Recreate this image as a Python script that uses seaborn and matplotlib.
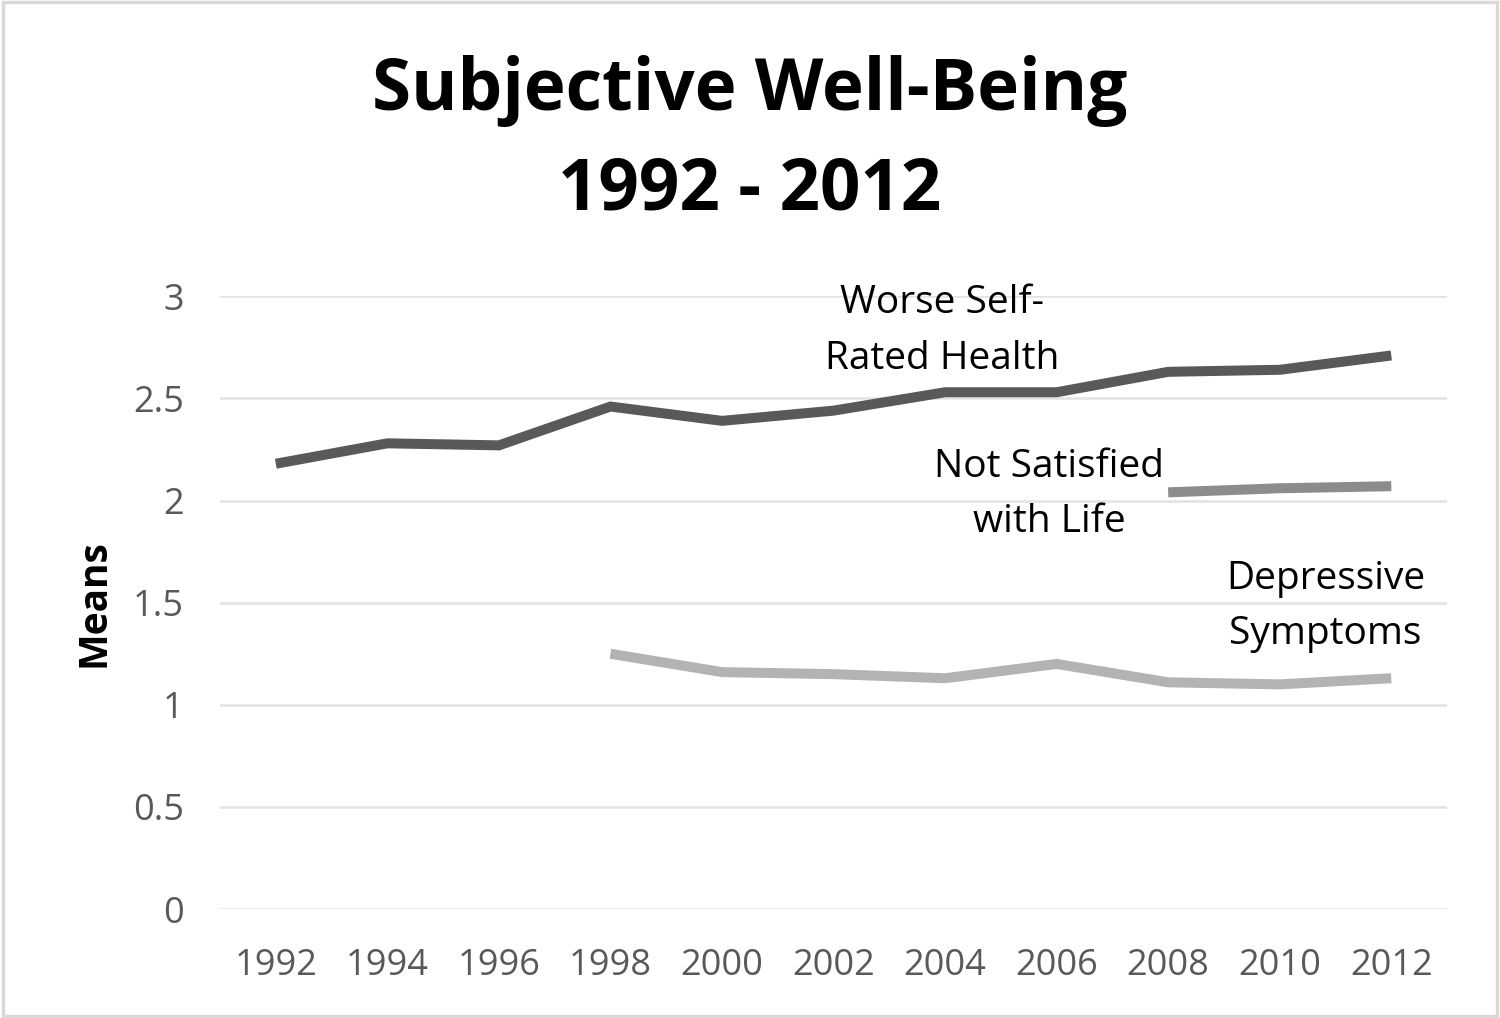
import matplotlib.pyplot as plt
import numpy as np
import pandas as pd
import seaborn as sns

# data
years = ["1992", "1994", "1996", "1998", "2000", "2002", "2004", "2006", "2008", "2010", "2012"]
health = [2.18, 2.28, 2.27, 2.46, 2.39, 2.44, 2.53, 2.53, 2.63, 2.64, 2.71]
satisfied = [np.nan] * 8 + [2.04, 2.06, 2.07]
depressive = [np.nan] * 3 + [1.25, 1.16, 1.15, 1.13, 1.20, 1.11, 1.10, 1.13]

series = ["Worse Self-Rated Health", "Not Satisfied with Life", "Depressive Symptoms"]
colors = ["#595959", "#8c8c8c", "#b3b3b3"]

df = pd.DataFrame({"year": years * 3,
                   "pos": list(range(len(years))) * 3,
                   "value": health + satisfied + depressive,
                   "series": [s for s in series for _ in years]})
df = df.dropna()

sns.set_style("white")
plt.rcParams['font.family'] = ['Open Sans', 'DejaVu Sans']

fig = plt.figure(figsize=(15, 10.18), dpi=100)
ax = fig.add_axes([0.1467, 0.107, 0.818, 0.602])

sns.lineplot(data=df, x="pos", y="value", hue="series", palette=dict(zip(series, colors)),
             linewidth=7.2, legend=False, ax=ax)
for line in ax.lines:
    line.set_solid_capstyle("butt")
    line.set_solid_joinstyle("miter")

ax.set_xlim(-0.5, len(years) - 0.5)
ax.set_ylim(0, 3)
ax.set_xticks(range(len(years)))
ax.set_xticklabels(years)
ax.set_yticks([0, 0.5, 1, 1.5, 2, 2.5, 3])
ax.set_yticklabels(["0", "0.5", "1", "1.5", "2", "2.5", "3"])
ax.tick_params(axis="both", labelsize=26, colors="#595959", length=0)
ax.tick_params(axis="x", pad=28)
ax.tick_params(axis="y", pad=26)
ax.yaxis.grid(True, color="#e3e3e3", linewidth=1.8)
ax.set_axisbelow(True)
for s in ax.spines.values():
    s.set_visible(False)

ax.set_xlabel("")
ax.set_ylabel("Means", fontsize=28, fontweight="bold", color="black", labelpad=14)

# line labels
lab = dict(ha="center", va="center", fontsize=28, linespacing=1.6, color="black")
ax.text(5.97, 2.83, "Worse Self-\nRated Health", **lab)
ax.text(6.93, 2.03, "Not Satisfied\nwith Life", **lab)
ax.text(9.41, 1.48, "Depressive\nSymptoms", **lab)

fig.text(0.5, 0.862, "Subjective Well-Being\n1992 - 2012", ha="center", va="center",
         fontsize=51, fontweight="bold", linespacing=1.5, color="black")

# light border around the chart
fig.patches.append(plt.Rectangle((0.002, 0.002), 0.996, 0.996, transform=fig.transFigure,
                                 fill=False, edgecolor="#d9d9d9", linewidth=2.5))

fig.savefig("out.png", dpi=100)
